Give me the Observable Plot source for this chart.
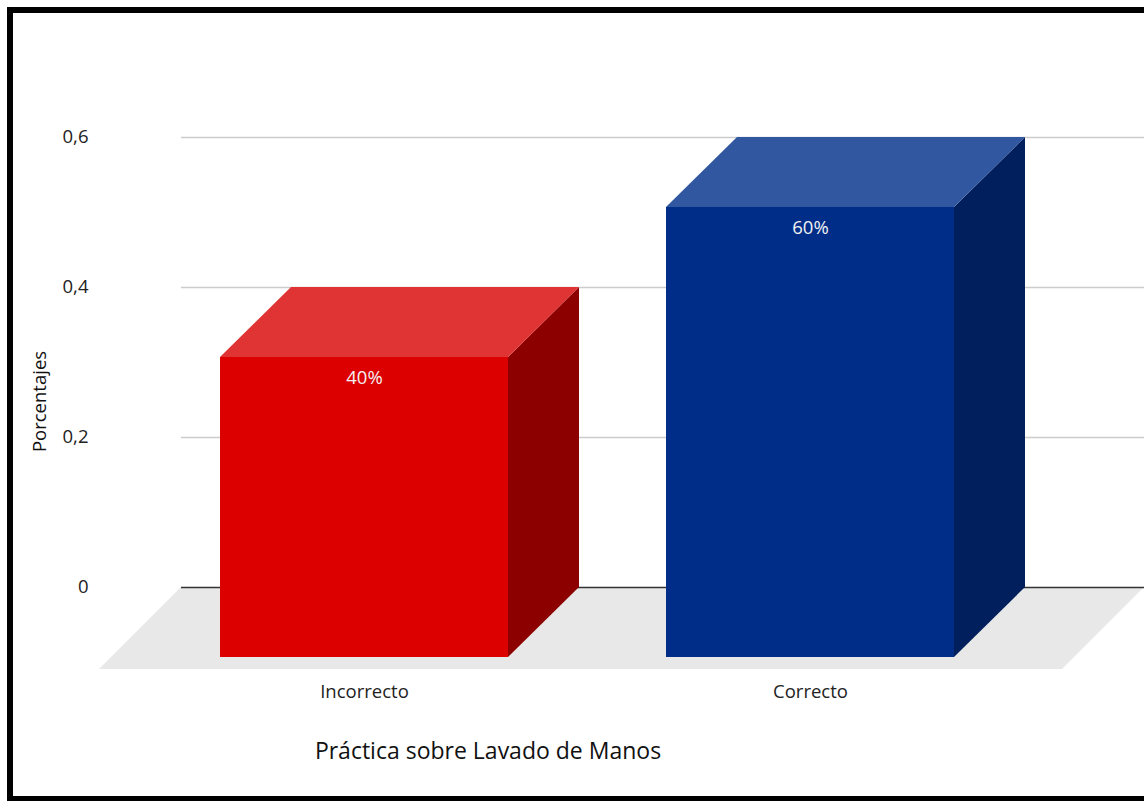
<!DOCTYPE html>
<html>
<head>
<meta charset="utf-8">
<script src="https://cdn.jsdelivr.net/npm/d3@7"></script>
<script src="https://cdn.jsdelivr.net/npm/@observablehq/plot@0.6"></script>
<style>
  html, body { margin: 0; padding: 0; background: #fff; overflow: hidden; }
  #wrap { position: relative; width: 1144px; height: 801px; overflow: hidden; background: #fff; font-family: "Open Sans", sans-serif; }
  .bd { position: absolute; background: #000; pointer-events: none; }
  #chart { position: absolute; left: 0; top: 0; }
</style>
</head>
<body>
<div id="wrap">
  <div id="chart"></div>
  <div class="bd" style="left:7px; top:7px; width:1137px; height:6px;"></div>
  <div class="bd" style="left:7px; top:7px; width:6px; height:794px;"></div>
  <div class="bd" style="left:7px; top:796px; width:1137px; height:5px;"></div>
</div>
<script>
// ---- data ----
const categories = ["Incorrecto", "Correcto"];
const values = [0.4, 0.6];
const valueLabels = ["40%", "60%"];
const yTicks = [0, 0.2, 0.4, 0.6];
const yTickLabels = ["0", "0,2", "0,4", "0,6"];
const yTitle = "Porcentajes";
const xTitle = "Práctica sobre Lavado de Manos";

// ---- styles ----
const frontColors = ["#dc0000", "#002d87"];
const topColors = ["#e03434", "#3157a0"];
const sideColors = ["#8c0000", "#001f5c"];
const DX = -71, DY = 70;       // bar depth offset (front face relative to back)
const FLOOR = 82;               // floor depth

const data = categories.map((c, i) => ({cat: c, value: values[i], label: valueLabels[i], idx: i}));

const cubeRender = (index, scales, vals) => {
  const bw = typeof scales.x.bandwidth === "function" ? scales.x.bandwidth() : 289;
  const g = d3.create("svg:g");
  for (const i of index) {
    const k = data[i].idx;
    const x0 = vals.x[i], x1 = x0 + bw;
    const yb = Math.max(vals.y1[i], vals.y2[i]);
    const yt = Math.min(vals.y1[i], vals.y2[i]);
    const pts = a => a.map(p => p.join(",")).join(" ");
    g.append("polygon").attr("fill", sideColors[k])
      .attr("points", pts([[x1, yt], [x1, yb], [x1 + DX, yb + DY], [x1 + DX, yt + DY]]));
    g.append("polygon").attr("fill", topColors[k])
      .attr("points", pts([[x0, yt], [x1, yt], [x1 + DX, yt + DY], [x0 + DX, yt + DY]]));
    g.append("polygon").attr("fill", frontColors[k])
      .attr("points", pts([[x0 + DX, yt + DY], [x1 + DX, yt + DY], [x1 + DX, yb + DY], [x0 + DX, yb + DY]]));
  }
  return g.node();
};

const floorRender = (index, scales, vals, dims) => {
  const L = dims.marginLeft, R = dims.width - dims.marginRight;
  const y0 = scales.y(0);
  const g = d3.create("svg:g");
  g.append("polygon").attr("fill", "#e8e8e8")
    .attr("points", [[L, y0], [R, y0], [R - FLOOR, y0 + FLOOR], [L - FLOOR, y0 + FLOOR]].map(p => p.join(",")).join(" "));
  return g.node();
};

const chart = Plot.plot({
  width: 1144,
  height: 801,
  marginLeft: 181,
  marginRight: 0,
  marginTop: 137,
  marginBottom: 214,
  style: {fontFamily: "Open Sans, sans-serif", background: "transparent", overflow: "visible"},
  x: {domain: categories, paddingInner: 0.3535, paddingOuter: 0.254, align: 0.48, axis: null},
  y: {domain: [0, 0.6], axis: null},
  marks: [
    Plot.ruleY([0], {render: floorRender}),
    Plot.ruleY(yTicks.filter(t => t > 0), {stroke: "#cccccc", strokeWidth: 1.5}),
    Plot.ruleY([0], {stroke: "#333333", strokeWidth: 1.5}),
    Plot.axisY({ticks: yTicks, tickSize: 0, tickPadding: 93, tickFormat: d => yTickLabels[yTicks.indexOf(d)], fontSize: 18.5, fill: "#222", label: null}),
    Plot.axisX({tickSize: 0, tickPadding: 97, dx: DX, fontSize: 18.5, fill: "#222", label: null}),
    Plot.barY(data, {x: "cat", y: "value", render: cubeRender}),
    Plot.text(data, {x: "cat", y: "value", text: "label", dx: DX, dy: DY + 21, fill: "#f2f2f2", fontSize: 18.5}),
    Plot.text([yTitle], {frameAnchor: "left", textAnchor: "middle", rotate: -90, dx: -141, dy: 39, fontSize: 18.5, fill: "#111"}),
    Plot.text([xTitle], {frameAnchor: "bottom", dx: -175, dy: 164, fontSize: 23, fill: "#111", lineAnchor: "middle"})
  ]
});
document.getElementById("chart").appendChild(chart);
</script>
</body>
</html>
